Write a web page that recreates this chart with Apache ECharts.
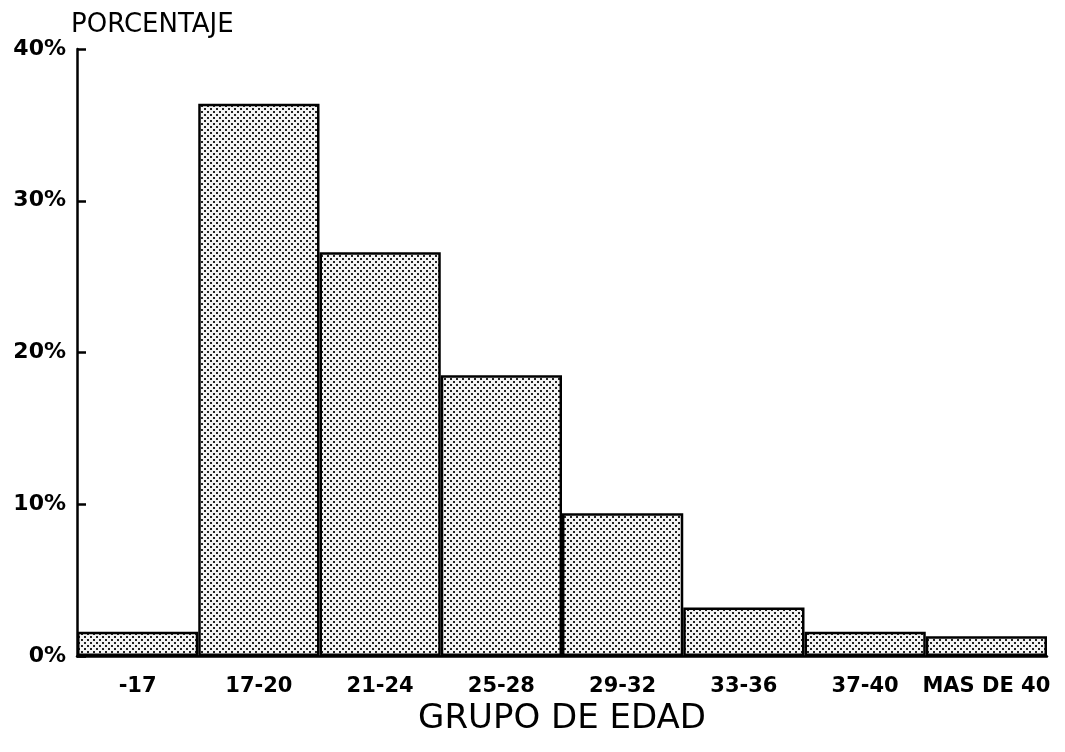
<!DOCTYPE html>
<html>
<head>
<meta charset="utf-8">
<script src="https://cdn.jsdelivr.net/npm/echarts@6/dist/echarts.min.js"></script>
<style>html,body{margin:0;padding:0;background:#fff}#c{width:1065px;height:752px}</style>
</head>
<body>
<div id="c"></div>
<script>
const categories = ['-17', '17-20', '21-24', '25-28', '29-32', '33-36', '37-40', 'MAS DE 40'];
const values = [1.6, 36.4, 26.6, 18.5, 9.4, 3.2, 1.6, 1.3];
const yTicks = [0, 10, 20, 30, 40];

const pc = document.createElement('canvas');
pc.width = 6; pc.height = 6;
const g = pc.getContext('2d');
g.fillStyle = '#f4f4f4'; g.fillRect(0, 0, 6, 6);
g.fillStyle = '#222';
g.fillRect(0, 0, 2, 2);
g.fillRect(3, 3, 2, 2);

const FONT = 'DejaVu Sans, Verdana, sans-serif';
const chart = echarts.init(document.getElementById('c'));
chart.setOption({
  animation: false,
  backgroundColor: '#fff',
  grid: { left: 77, right: 18, top: 49, bottom: 96 },
  xAxis: {
    type: 'category',
    data: categories,
    axisLine: { lineStyle: { color: '#000', width: 2.5 } },
    axisTick: { show: false },
    axisLabel: { color: '#000', fontFamily: FONT, fontWeight: 'bold', fontSize: 21, margin: 20, interval: 0 },
    name: 'GRUPO DE EDAD',
    nameLocation: 'middle',
    nameGap: 33,
    nameTextStyle: { color: '#000', fontFamily: FONT, fontSize: 34 }
  },
  yAxis: {
    type: 'value',
    min: yTicks[0], max: yTicks[yTicks.length - 1], interval: 10,
    splitLine: { show: false },
    axisLine: { show: true, lineStyle: { color: '#000', width: 2.5 } },
    axisTick: { show: true, inside: true, length: 9, lineStyle: { color: '#000', width: 2.5 } },
    axisLabel: { color: '#000', fontFamily: FONT, fontWeight: 'bold', fontSize: 22, margin: 11, formatter: '{value}%' },
    name: 'PORCENTAJE',
    nameLocation: 'end',
    nameGap: 9,
    nameTextStyle: { color: '#000', fontFamily: FONT, fontSize: 26, align: 'left', padding: [0, 0, 0, -6] }
  },
  series: [{
    type: 'bar',
    data: values,
    barCategoryGap: '0%',
    itemStyle: { color: { image: pc, repeat: 'repeat' }, borderColor: '#000', borderWidth: 2.5 }
  }]
});
</script>
</body>
</html>
